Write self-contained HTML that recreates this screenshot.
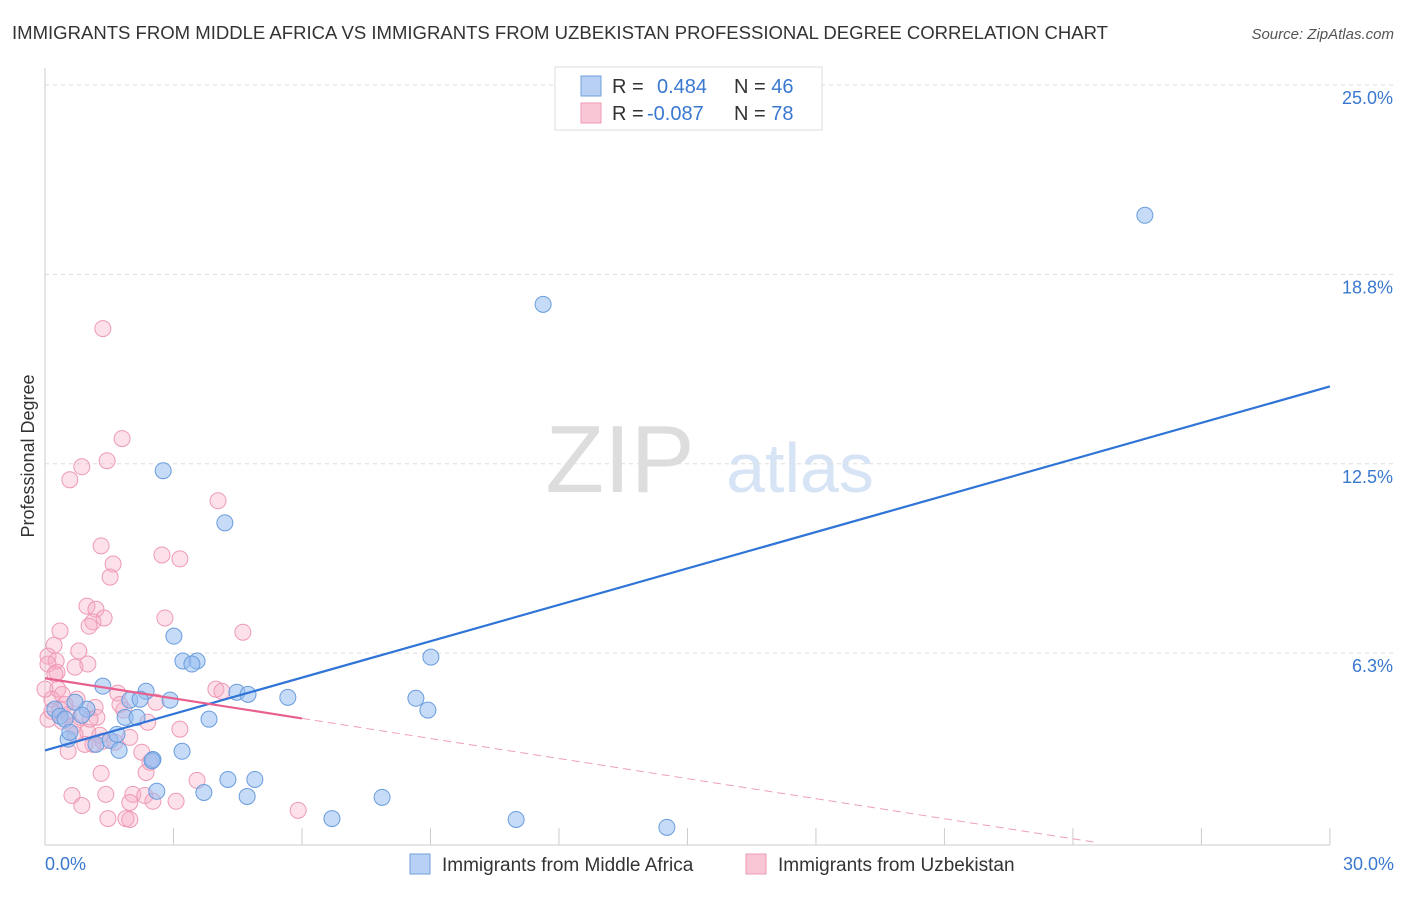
<!DOCTYPE html>
<html><head><meta charset="utf-8">
<style>
body{margin:0;background:#fff;font-family:"Liberation Sans",sans-serif;}
svg text{font-family:"Liberation Sans",sans-serif;}
</style></head>
<body>
<svg id="chart" width="1406" height="892">
<text x="12" y="39" font-size="18" fill="#333" textLength="1096" lengthAdjust="spacingAndGlyphs">IMMIGRANTS FROM MIDDLE AFRICA VS IMMIGRANTS FROM UZBEKISTAN PROFESSIONAL DEGREE CORRELATION CHART</text>
<text x="1394" y="39" font-size="15" fill="#555" font-style="italic" text-anchor="end">Source: ZipAtlas.com</text>
<text x="620" y="492" font-size="96" fill="#ddd" font-family="Liberation Serif" text-anchor="middle">ZIP</text>
<text x="800" y="492" font-size="70" fill="#d6e4f5" text-anchor="middle">atlas</text>
<text transform="translate(34,456) rotate(-90)" font-size="18" fill="#333" text-anchor="middle">Professional Degree</text>
<g id="grid"></g>
<g id="marks"></g>
<g>
<rect x="555" y="67" width="267" height="63" fill="#fff" stroke="#ddd"/>
<rect x="581" y="76" width="20" height="20" fill="#b7d0f3" stroke="#6fa0dc"/>
<rect x="581" y="103" width="20" height="20" fill="#f9c6d5" stroke="#ee9ab5"/>
<text x="612" y="93" font-size="20" fill="#333">R = <tspan fill="#3a78d0" x="657">0.484</tspan><tspan x="734">N = </tspan><tspan fill="#3a78d0">46</tspan></text>
<text x="612" y="120" font-size="20" fill="#333">R = <tspan fill="#3a78d0" x="647">-0.087</tspan><tspan x="734">N = </tspan><tspan fill="#3a78d0">78</tspan></text>
</g>
<g>
<rect x="410" y="854" width="20" height="20" fill="#b7d0f3" stroke="#6fa0dc"/>
<text x="442" y="871" font-size="19" fill="#333">Immigrants from Middle Africa</text>
<rect x="746" y="854" width="20" height="20" fill="#f9c6d5" stroke="#ee9ab5"/>
<text x="778" y="871" font-size="19" fill="#333">Immigrants from Uzbekistan</text>
</g>
</svg>
<script>
const yTicks=[25,18.75,12.5,6.25];
const yTickLabels=["25.0%","18.8%","12.5%","6.3%"];
const xTicks=[0,3,6,9,12,15,18,21,24,27,30];
const blueX=[25.68,11.63,2.76,4.20,3.01,3.22,3.55,3.43,9.01,1.35,2.36,2.92,1.98,2.22,4.48,4.74,5.67,8.66,8.94,0.23,0.35,0.98,0.70,0.86,0.47,1.87,2.15,3.83,0.54,1.19,1.52,1.68,1.73,3.20,2.52,4.27,4.90,3.71,4.72,2.61,7.87,6.70,11.0,14.52,0.58,2.5];
const blueY=[20.70,17.76,12.27,10.55,6.81,5.99,5.99,5.89,6.12,5.16,4.99,4.70,4.70,4.73,4.96,4.89,4.79,4.76,4.37,4.40,4.17,4.40,4.63,4.20,4.07,4.13,4.13,4.07,3.41,3.24,3.37,3.57,3.04,3.01,2.74,2.08,2.08,1.65,1.52,1.69,1.49,0.79,0.76,0.50,3.64,2.7];
const pinkX=[1.35,1.80,1.45,0.86,0.58,4.04,1.31,2.73,3.15,1.59,1.52,0.98,1.19,1.38,1.12,2.80,1.03,4.62,0.35,0.21,0.79,0.07,0.26,1.00,0.70,0.07,0.28,3.99,4.13,1.70,0.30,0.75,2.59,1.17,1.84,0.54,0.82,1.21,0.40,2.40,0.65,1.00,0.16,1.28,1.98,3.15,1.12,1.35,1.63,0.54,2.26,2.45,2.36,3.55,1.31,0.63,0.86,1.42,2.05,2.33,1.98,2.52,3.06,5.91,1.47,1.89,1.98,0.07,0.16,0.35,0.47,0.93,1.05,0.70,1.75,0.23,0.40,0.0];
const pinkY=[16.96,13.33,12.60,12.40,11.97,11.28,9.79,9.49,9.36,9.19,8.76,7.80,7.70,7.41,7.28,7.41,7.14,6.94,6.98,6.51,6.32,6.15,5.99,5.89,5.79,5.89,5.62,5.06,4.99,4.93,5.06,4.73,4.63,4.46,4.37,4.23,4.13,4.13,4.00,3.97,3.84,3.64,4.73,3.54,3.47,3.74,3.24,3.34,3.31,3.01,2.98,2.65,2.31,2.05,2.28,1.55,1.22,1.59,1.59,1.55,1.32,1.36,1.36,1.06,0.79,0.79,0.76,4.07,4.33,4.40,4.56,3.24,4.07,3.57,4.56,5.56,4.89,5.06];
const blueFit=[3.04,15.05];
const pinkFit=[5.42,-0.0883];
const NS="http://www.w3.org/2000/svg";
const sx=v=>45+v*42.83, sy=v=>842.5-v*30.3;
function mk(tag,attrs,parent){const e=document.createElementNS(NS,tag);for(const k in attrs)e.setAttribute(k,attrs[k]);parent.appendChild(e);return e;}
const grid=document.getElementById('grid'), marks=document.getElementById('marks');
yTicks.forEach((t,i)=>{
 const l=mk('line',{x1:45,x2:1394,y1:sy(t),y2:sy(t),stroke:'#ddd','stroke-dasharray':'4,4'},grid);
 
 
 const tx=mk('text',{x:1393,y:sy(t)+19,'font-size':18,fill:'#3a78d0','text-anchor':'end'},grid);
 tx.textContent=yTickLabels[i];
 
 
});
const ax=mk('line',{x1:45,x2:1330,y1:845,y2:845,stroke:'#ccc'},grid);


const ay=mk('line',{x1:45,x2:45,y1:68,y2:845,stroke:'#ccc'},grid);


xTicks.forEach(t=>{
 const l=mk('line',{x1:sx(t),x2:sx(t),y1:828,y2:845,stroke:'#ccc'},grid);
 
 
});
const x0=mk('text',{x:45,y:870,'font-size':18,fill:'#3a78d0'},grid);x0.textContent='0.0%';


const x1=mk('text',{x:1394,y:870,'font-size':18,fill:'#3a78d0','text-anchor':'end'},grid);x1.textContent='30.0%';


pinkX.forEach((x,i)=>{
 const c=mk('circle',{cx:sx(x),cy:sy(pinkY[i]),r:8,fill:'rgba(246,170,196,0.35)',stroke:'#ee9ab5','stroke-width':1},marks);
 
 
});
blueX.forEach((x,i)=>{
 const c=mk('circle',{cx:sx(x),cy:sy(blueY[i]),r:8,fill:'rgba(150,190,240,0.55)',stroke:'#6a9cdc','stroke-width':1},marks);
 
 
});
const bl=mk('line',{x1:sx(0),y1:sy(blueFit[0]),x2:sx(30),y2:sy(blueFit[1]),stroke:'#2f74d6','stroke-width':2.2},marks);


const pl=mk('line',{x1:sx(0),y1:sy(pinkFit[0]),x2:sx(6),y2:sy(pinkFit[0]+pinkFit[1]*6*2.5),stroke:'#e8608e','stroke-width':2.2},marks);


const xEnd=pinkFit[0]/(-pinkFit[1]*2.5);
const pd=mk('line',{x1:sx(6),y1:sy(pinkFit[0]+pinkFit[1]*6*2.5),x2:sx(xEnd),y2:sy(0),stroke:'#eea0b8','stroke-width':1,'stroke-dasharray':'8,5'},marks);


</script>
</body></html>
